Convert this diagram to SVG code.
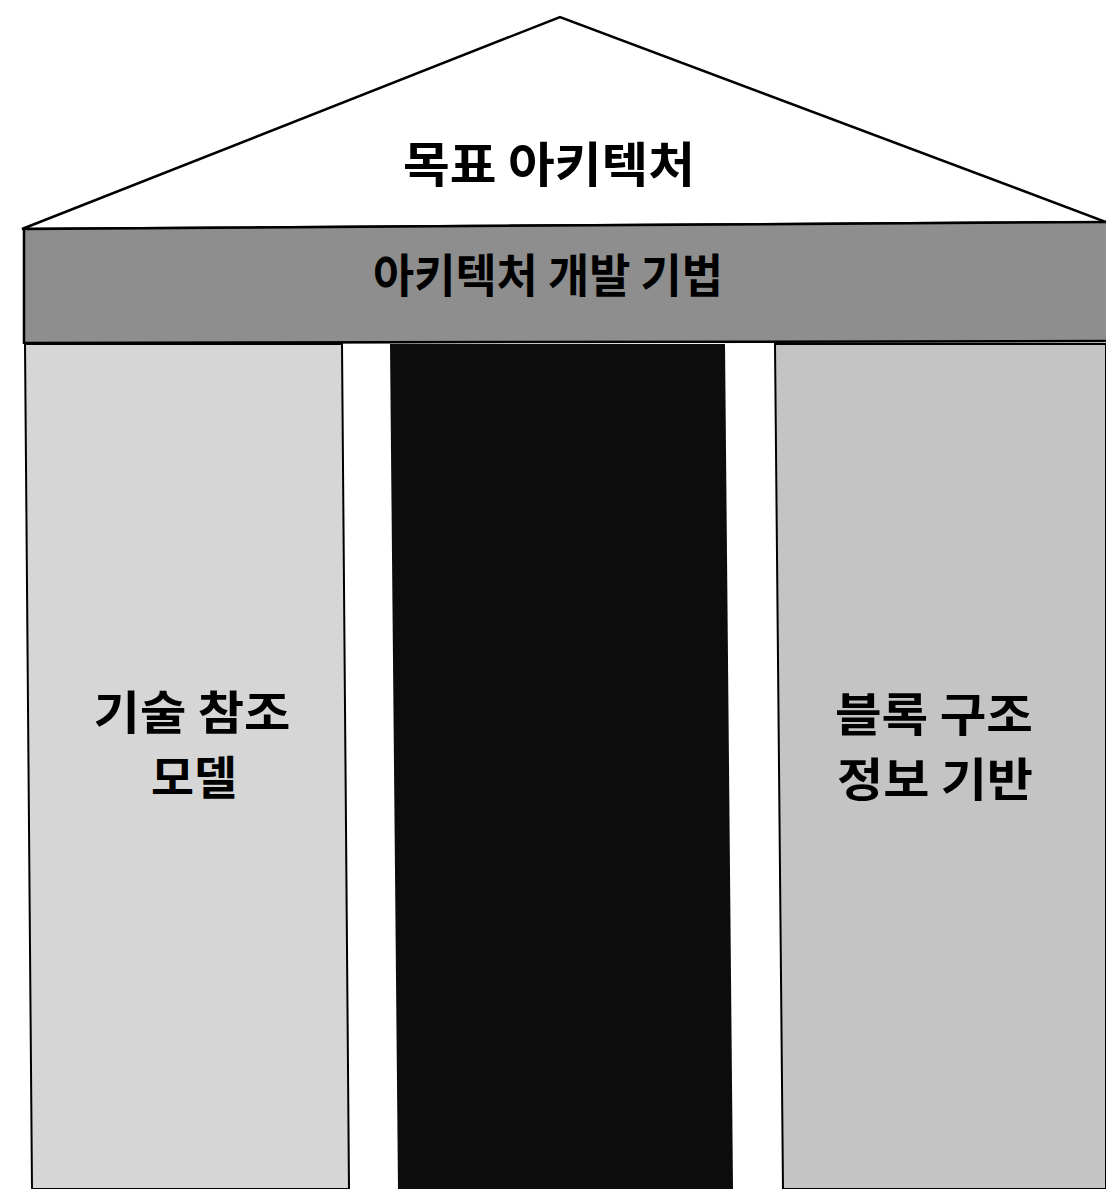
<svg xmlns="http://www.w3.org/2000/svg" width="1106" height="1189" viewBox="0 0 1106 1189">
  <defs>
    <style>
      .lbl { font-family: "Noto Sans CJK KR", "Noto Sans", sans-serif; font-weight: 700; fill: #000; text-anchor: middle; }
      .edge { stroke: #000; stroke-width: 2.5; }
    </style>
  </defs>
  <rect width="1106" height="1189" fill="#fff"/>
  <g id="roof">
    <polygon points="22,229 560,17 1106,222" fill="#fff" stroke="#000" stroke-width="2.5" stroke-linejoin="miter"/>
    <text class="lbl" x="549" y="182" font-size="48" font-weight="500" textLength="292" lengthAdjust="spacingAndGlyphs">목표 아키텍처</text>
  </g>
  <g id="band">
    <polygon points="24,229 1106,222 1106,342 24,344" fill="#8e8e8e"/>
    <line x1="24" y1="229" x2="1106" y2="222" class="edge" stroke-width="3"/>
    <line x1="24" y1="343" x2="1106" y2="341" class="edge" stroke-width="4"/>
    <line x1="24" y1="229" x2="24" y2="344" class="edge"/>
    <text class="lbl" x="548" y="292" font-size="46" font-weight="900" textLength="350" lengthAdjust="spacingAndGlyphs">아키텍처 개발 기법</text>
  </g>
  <g id="pillar-left">
    <polygon points="25,344 342,344 349,1189 32,1189" fill="#d6d6d6" stroke="#000" stroke-width="2"/>
    <text class="lbl" x="192" y="729" font-size="46" textLength="197" lengthAdjust="spacingAndGlyphs">기술 참조</text>
    <text class="lbl" x="194" y="794" font-size="46" textLength="86" lengthAdjust="spacingAndGlyphs">모델</text>
  </g>
  <g id="pillar-center">
    <polygon points="390,344 725,344 733,1189 398,1189" fill="#0c0c0c"/>
  </g>
  <g id="pillar-right">
    <polygon points="775,344 1106,344 1106,1189 783,1189" fill="#c4c4c4" stroke="#000" stroke-width="2"/>
    <text class="lbl" x="934" y="731" font-size="46" textLength="198" lengthAdjust="spacingAndGlyphs">블록 구조</text>
    <text class="lbl" x="935" y="796" font-size="46" textLength="196" lengthAdjust="spacingAndGlyphs">정보 기반</text>
  </g>
</svg>
